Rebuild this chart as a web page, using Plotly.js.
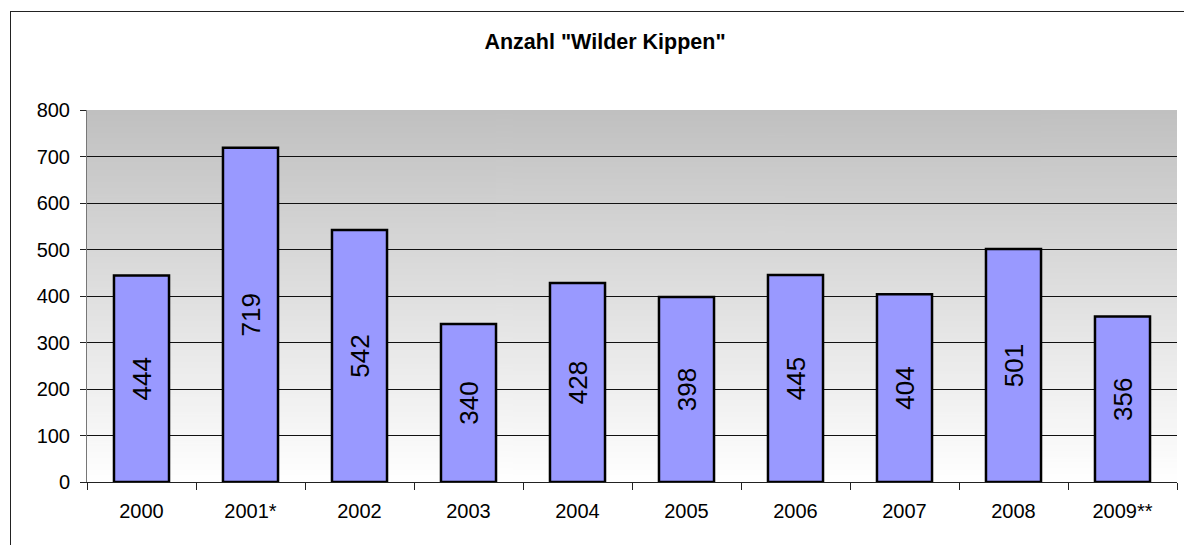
<!DOCTYPE html>
<html>
<head>
<meta charset="utf-8">
<script src="https://cdn.plot.ly/plotly-3.0.1.min.js"></script>
<style>
  body { margin: 0; background: #fff; }
  #wrap { position: relative; width: 1184px; height: 545px; overflow: hidden; }
  #chart { width: 1184px; height: 545px; }
  #frame {
    position: absolute; left: 10px; top: 11px; width: 1300px; height: 700px;
    border-left: 1.5px solid #222; border-top: 1.5px solid #222;
    pointer-events: none;
  }
</style>
</head>
<body>
<div id="wrap">
  <div id="chart"></div>
  <div id="frame"></div>
</div>
<script>
const years = ["2000", "2001*", "2002", "2003", "2004", "2005", "2006", "2007", "2008", "2009**"];
const counts = [444, 719, 542, 340, 428, 398, 445, 404, 501, 356];
const yTicks = [0, 100, 200, 300, 400, 500, 600, 700, 800];

// grey-to-white background like the Excel plot area
const makeGradient = () => {
  const c = document.createElement("canvas");
  c.width = 4;
  c.height = 256;
  const ctx = c.getContext("2d");
  const g = ctx.createLinearGradient(0, 0, 0, 256);
  g.addColorStop(0, "#c0c0c0");
  g.addColorStop(1, "#ffffff");
  ctx.fillStyle = g;
  ctx.fillRect(0, 0, 4, 256);
  return c.toDataURL("image/png");
};

const font = "Liberation Sans, Arial, sans-serif";

const data = [{
  type: "bar",
  x: years,
  y: counts,
  text: counts.map(String),
  textposition: "inside",
  insidetextanchor: "middle",
  textangle: -90,
  textfont: { family: font, size: 26, color: "#000" },
  marker: { color: "#9999ff", line: { color: "#000", width: 2.5 } },
  hoverinfo: "none"
}];

const layout = {
  width: 1184,
  height: 545,
  margin: { l: 87, r: 7, t: 110, b: 63 },
  paper_bgcolor: "#fff",
  plot_bgcolor: "rgba(0,0,0,0)",
  bargap: 0.495,
  showlegend: false,
  title: {
    text: '<b>Anzahl "Wilder Kippen"</b>',
    font: { family: font, size: 21.5, color: "#000" },
    x: 0.511,
    xanchor: "center",
    y: 0.923,
    yanchor: "middle"
  },
  xaxis: {
    type: "category",
    tickson: "boundaries",
    ticks: "outside",
    ticklen: 7,
    tickcolor: "#222",
    showgrid: false,
    showline: true,
    linecolor: "#222",
    linewidth: 1,
    ticklabelstandoff: 11,
    tickfont: { family: font, size: 20, color: "#000" }
  },
  yaxis: {
    range: [0, 800],
    tickvals: yTicks,
    ticktext: yTicks.map(String),
    ticks: "outside",
    ticklen: 6,
    tickcolor: "#222",
    showgrid: true,
    gridcolor: "#111",
    gridwidth: 1,
    zeroline: false,
    showline: true,
    linecolor: "#777",
    linewidth: 1,
    ticklabelstandoff: 6,
    tickfont: { family: font, size: 20, color: "#000" }
  },
  images: [{
    source: makeGradient(),
    xref: "paper", yref: "paper",
    x: 0, y: 1, sizex: 1, sizey: 1,
    sizing: "stretch",
    xanchor: "left", yanchor: "top",
    layer: "below"
  }]
};

Plotly.newPlot("chart", data, layout, { displayModeBar: false, staticPlot: true });
</script>
</body>
</html>
